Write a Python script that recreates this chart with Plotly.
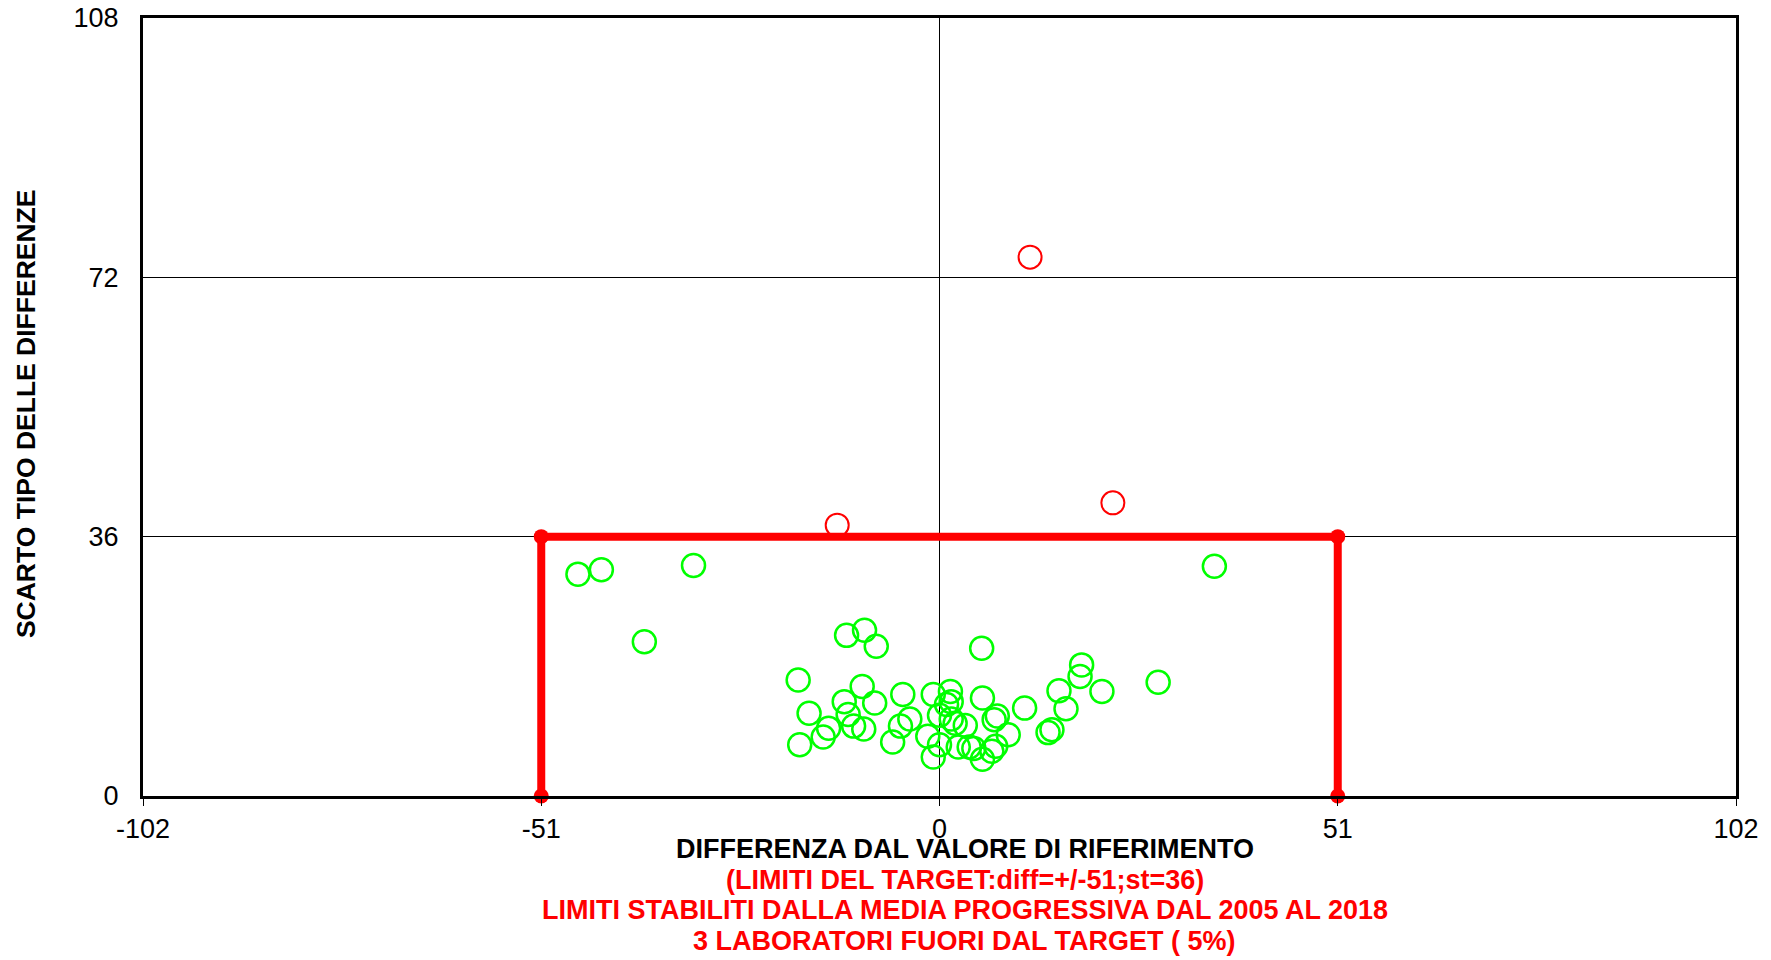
import plotly.graph_objects as go

# ---- data ----
green_x = [-46.3, -43.3, -31.5, -37.8, 35.2,
           -11.9, -9.6, -8.1, 5.4, -18.1, -9.9, -12.2, -8.3, -16.7, -11.7,
           -11.0, -9.7, -14.2, -14.9, -17.9, -4.7, -3.8, -5.0, -6.0, -1.5,
           -0.8, 1.4, 1.5, 0.9, 0.0, 1.5, 2.0, 3.3, 5.5, 7.4,
           7.0, 10.9, 8.8, 0.0, -0.8, 2.4, 3.8, 4.4, 5.5, 6.7,
           7.2, 15.3, 16.2, 18.2, 18.0, 20.8, 28.0, 13.9, 14.4]
green_y = [30.8, 31.4, 32.0, 21.4, 31.9,
           22.3, 23.0, 20.8, 20.5, 16.1, 15.2, 13.1, 12.9, 11.5, 11.3,
           9.7, 9.3, 9.4, 8.2, 7.1, 14.1, 10.7, 9.7, 7.5, 8.3,
           14.1, 14.5, 13.1, 12.7, 11.2, 10.7, 10.1, 9.8, 13.6, 11.1,
           10.6, 12.2, 8.5, 7.1, 5.4, 6.8, 6.8, 6.6, 5.1, 6.2,
           6.9, 14.6, 12.1, 18.2, 16.6, 14.5, 15.8, 8.8, 9.2]
red_x = [11.6, -13.1, 22.2]
red_y = [74.8, 37.6, 40.7]

box_x = [-51, -51, 51, 51]
box_y = [0, 36, 36, 0]

x_ticks = [-102, -51, 0, 51, 102]
y_ticks = [0, 36, 72, 108]

FONT = "Liberation Sans, Arial, sans-serif"

fig = go.Figure()
fig.add_trace(go.Scatter(
    x=box_x, y=box_y, mode="lines+markers",
    line=dict(color="#FF0000", width=8),
    marker=dict(color="#FF0000", size=15, symbol="circle"),
    hoverinfo="skip", cliponaxis=False))
fig.add_trace(go.Scatter(
    x=green_x, y=green_y, mode="markers",
    marker=dict(symbol="circle-open", size=23, color="#00FF00",
                line=dict(width=2.5, color="#00FF00"))))
fig.add_trace(go.Scatter(
    x=red_x, y=red_y, mode="markers",
    marker=dict(symbol="circle-open", size=23, color="#FF0000",
                line=dict(width=2.0, color="#FF0000"))))

# page body has an 8px margin: figure offset accordingly
fig.update_layout(
    width=1755, height=952,
    margin=dict(l=135, r=27, t=10, b=164, autoexpand=False),
    paper_bgcolor="white", plot_bgcolor="white",
    showlegend=False,
    font=dict(family=FONT, color="black"),
)
fig.update_xaxes(
    range=[-102, 102], tickvals=x_ticks, ticktext=[str(v) for v in x_ticks],
    showgrid=False, zeroline=True, zerolinecolor="black", zerolinewidth=1,
    showline=True, mirror=True, linecolor="black", linewidth=3,
    ticks="outside", ticklen=7, tickcolor="black", tickwidth=1,
    ticklabeloverflow="allow",
    tickfont=dict(size=27, family=FONT, color="black"),
)
fig.update_yaxes(
    range=[0, 108], tickvals=y_ticks, ticktext=[str(v) for v in y_ticks],
    showgrid=True, gridcolor="black", gridwidth=1, zeroline=False,
    showline=True, mirror=True, linecolor="black", linewidth=3,
    ticks="outside", ticklen=16, tickcolor="rgba(0,0,0,0)",
    ticklabeloverflow="allow",
    tickfont=dict(size=27, family=FONT, color="black"),
)

def ann(text, y, color):
    fig.add_annotation(text="<b>" + text + "</b>", xref="paper", yref="paper",
                       x=0.5158, y=y, xanchor="center", yanchor="middle",
                       showarrow=False,
                       font=dict(size=27, family=FONT, color=color))

ann("DIFFERENZA DAL VALORE DI RIFERIMENTO", -0.0681, "black")
ann("(LIMITI DEL TARGET:diff=+/-51;st=36)", -0.108, "#FF0000")
ann("LIMITI STABILITI DALLA MEDIA PROGRESSIVA DAL 2005 AL 2018", -0.1465, "#FF0000")
ann("3 LABORATORI FUORI DAL TARGET ( 5%)", -0.1864, "#FF0000")

fig.add_annotation(text="<b>SCARTO TIPO DELLE DIFFERENZE</b>", xref="paper", yref="paper",
                   x=-0.0734, y=0.491, xanchor="center", yanchor="middle",
                   textangle=-90, showarrow=False,
                   font=dict(size=26.5, family=FONT, color="black"))

fig.write_html("out.html")
